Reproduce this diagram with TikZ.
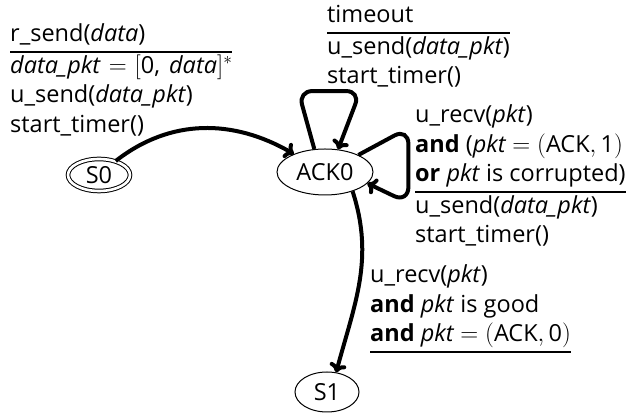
\documentclass[tikz,border=0pt]{standalone}
\usepackage{fontspec}
\setmainfont{Open Sans}
\usetikzlibrary{arrows.meta,shapes.geometric}
\setlength\arrayrulewidth{1.8pt}
\begin{document}
\begin{tikzpicture}[x=1pt,y=1pt,
  every node/.style={font=\fontsize{23.5}{29.5}\selectfont},
  state/.style={draw, ellipse, line width=1pt, inner sep=0pt},
  edge/.style={line width=4pt, -{To[length=9pt,width=17pt]}},
  lbl/.style={anchor=base west, inner sep=0pt}]
\useasboundingbox (0,0) rectangle (630,414);
% states
\node[state, double, double distance=2.6pt, minimum width=62pt, minimum height=32pt] (S0) at (99,239) {S0};
\node[state, minimum width=96pt, minimum height=46pt] (ACK0) at (325,242) {ACK0};
\node[state, minimum width=64pt, minimum height=40pt] (S1) at (327,22) {S1};
% labels
\node[lbl] (L1) at (10,372) {\begin{tabular}[t]{@{}l@{}}
r\_send(\textit{data})\\ \hline
\textit{data\_pkt}\hspace{8pt}$=$\hspace{8pt}$[$0,\hspace{9pt}\textit{data}\/$]^{*}$\\
u\_send(\textit{data\_pkt})\\
start\_timer()
\end{tabular}};
\node[lbl] (L2) at (327,391) {\begin{tabular}[t]{@{}l@{}}
timeout\\ \hline
u\_send(\textit{data\_pkt})\\
start\_timer()
\end{tabular}};
\node[lbl] (L3) at (415,291) {\begin{tabular}[t]{@{}l@{}}
u\_recv(\textit{pkt})\\
\textbf{and} (\textit{pkt} $= (\mbox{ACK}, \mbox{1})$\\
\textbf{or} \textit{pkt} is corrupted)\\ \hline
u\_send(\textit{data\_pkt})\\
start\_timer()
\end{tabular}};
\node[lbl] (L4) at (370,131) {\begin{tabular}[t]{@{}l@{}}
u\_recv(\textit{pkt})\\
\textbf{and} \textit{pkt} is good\\
\textbf{and} \textit{pkt} $= (\mbox{ACK}, \mbox{0})$\\ \hline
\end{tabular}};
% transitions
\draw[edge] (S0.40) to[out=38, in=150] (ACK0.150);
\draw[edge, rounded corners=14pt] (ACK0.115) -- ++(-16,58) -- ++(62,0) -- (ACK0.60);
\draw[edge, rounded corners=16pt] (ACK0.27) -- ++(50,27) -- ++(0,-75) -- (ACK0.-15);
\draw[edge] (ACK0.-35) to[out=-72, in=75] (S1.65);
\end{tikzpicture}
\end{document}
